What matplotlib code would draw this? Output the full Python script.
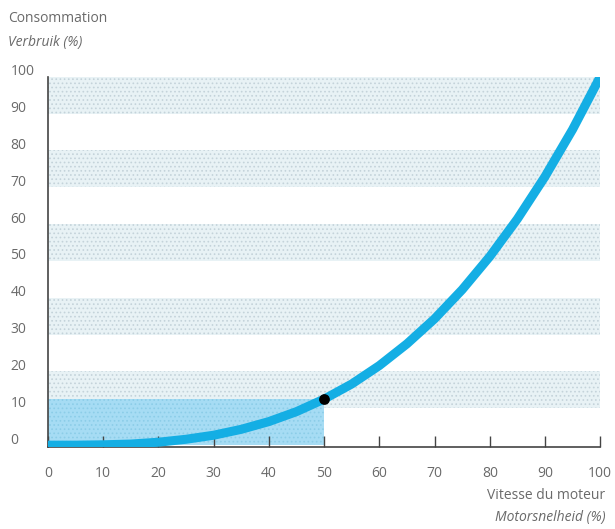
import matplotlib.pyplot as plt
from matplotlib.transforms import ScaledTranslation

plt.rcParams['font.family'] = ['Open Sans', 'DejaVu Sans']
plt.rcParams['hatch.linewidth'] = 0.7

# motor speed (%) vs energy consumption (%)
speed = [0, 5, 10, 15, 20, 25, 30, 35, 40, 45, 50, 55, 60, 65, 70, 75, 80, 85, 90, 95, 100]
consumption = [0, 0.0, 0.1, 0.3, 0.8, 1.6, 2.7, 4.3, 6.4, 9.1, 12.5,
               16.6, 21.6, 27.5, 34.3, 42.2, 51.2, 61.4, 72.9, 85.7, 100]
half_speed = 50
half_consumption = 12.5
bands = [(10, 20), (30, 40), (50, 60), (70, 80), (90, 100)]
ticks = [0, 10, 20, 30, 40, 50, 60, 70, 80, 90, 100]

txt = '#6a6a6a'
line_blue = '#14aee4'

fig = plt.figure(figsize=(6.15, 5.29), dpi=100)
ax = fig.add_axes([0.078, 0.155, 0.898, 0.70])

for lo, hi in bands:
    ax.axhspan(lo, hi, facecolor='#e8f2f5', edgecolor='#c4d3da', hatch='....', linewidth=0, zorder=0)

# highlighted area under the half-speed point
ax.fill_between([0, half_speed], 0, half_consumption, facecolor='#a6dcf4',
                edgecolor='#8ccde8', hatch='....', linewidth=0, zorder=1)

ax.plot(speed, consumption, color=line_blue, lw=6.5, solid_capstyle='round', zorder=3)
ax.scatter([half_speed], [half_consumption], s=45, color='black', zorder=4)

ax.set_xlim(0, 100)
ax.set_ylim(-0.5, 100)
ax.set_xticks(ticks)
ax.set_yticks(ticks)
ax.set_xticklabels([str(t) for t in ticks])
ax.set_yticklabels([str(t) for t in ticks])

for s in ['top', 'right']:
    ax.spines[s].set_visible(False)
for s in ['left', 'bottom']:
    ax.spines[s].set_color('#444444')
    ax.spines[s].set_linewidth(1.2)

ax.tick_params(axis='x', direction='in', length=8, width=1, color='#444444',
               pad=14, labelsize=10, labelcolor=txt)
ax.tick_params(axis='y', length=0, pad=27, labelsize=10, labelcolor=txt)
for lab in ax.get_yticklabels():
    lab.set_horizontalalignment('left')
    lab.set_transform(lab.get_transform() + ScaledTranslation(0, 5 / 72, fig.dpi_scale_trans))

fig.text(0.013, 0.965, 'Consommation', fontsize=10, color=txt, va='center')
fig.text(0.013, 0.92, 'Verbruik (%)', fontsize=10, color=txt, va='center', style='italic')
fig.text(0.984, 0.064, 'Vitesse du moteur', fontsize=10, color=txt, va='center', ha='right')
fig.text(0.984, 0.022, 'Motorsnelheid (%)', fontsize=10, color=txt, va='center', ha='right',
         style='italic')

fig.savefig('out.png', dpi=100)
